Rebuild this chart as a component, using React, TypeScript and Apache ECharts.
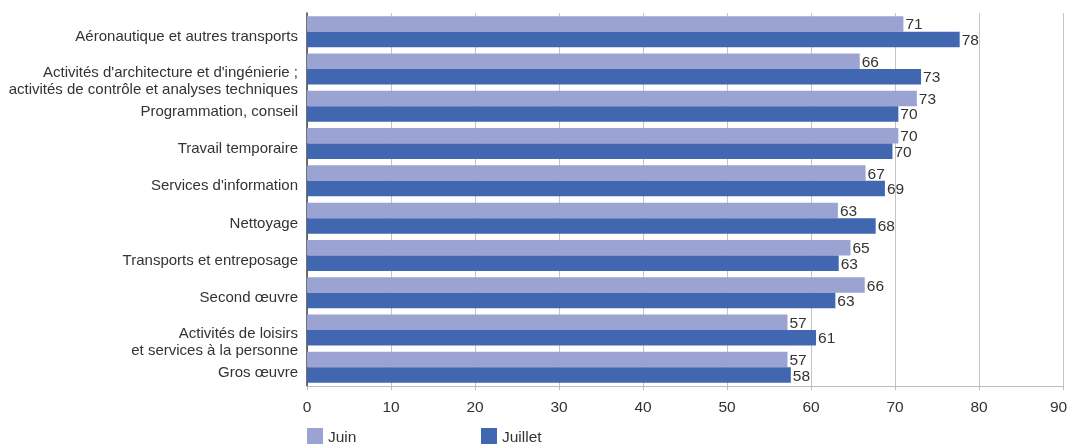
import React, { useEffect, useRef } from "react";
import * as echarts from "echarts";

const categories = [
  "Aéronautique et autres transports",
  "Activités d'architecture et d'ingénierie ;\nactivités de contrôle et analyses techniques",
  "Programmation, conseil",
  "Travail temporaire",
  "Services d'information",
  "Nettoyage",
  "Transports et entreposage",
  "Second œuvre",
  "Activités de loisirs\net services à la personne",
  "Gros œuvre",
];
const juin = [71.0, 65.8, 72.6, 70.4, 66.5, 63.2, 64.7, 66.4, 57.2, 57.2];
const juillet = [77.7, 73.1, 70.4, 69.7, 68.8, 67.7, 63.3, 62.9, 60.6, 57.6];
const xTicks = [0, 10, 20, 30, 40, 50, 60, 70, 80, 90];

const FONT = "'Liberation Sans', Arial, sans-serif";
const C_JUIN = "#9aa3d2";
const C_JUILLET = "#4267b1";

export default function App() {
  const ref = useRef<HTMLDivElement>(null);
  useEffect(() => {
    const chart = echarts.init(ref.current!, null, { renderer: "svg" });
    const label = {
      show: true,
      position: "right" as const,
      distance: 2,
      color: "#333",
      fontSize: 15.5,
      fontFamily: FONT,
      formatter: (p: any) => String(Math.round(p.value)),
    };
    const legendText = { fontSize: 15.5, color: "#333", fontFamily: FONT };
    const xMax = xTicks[xTicks.length - 1];
    chart.setOption({
      animation: false,
      textStyle: { fontFamily: FONT },
      grid: {
        left: 307,
        right: 7,
        top: 13,
        bottom: 59,
        containLabel: false,
        outerBoundsMode: "none",
      },
      legend: [
        {
          data: ["Juin"],
          left: 307,
          top: 428,
          padding: 0,
          itemWidth: 16,
          itemHeight: 16,
          icon: "rect",
          itemGap: 0,
          textStyle: legendText,
        },
        {
          data: ["Juillet"],
          left: 481,
          top: 428,
          padding: 0,
          itemWidth: 16,
          itemHeight: 16,
          icon: "rect",
          itemGap: 0,
          textStyle: legendText,
        },
      ],
      xAxis: {
        type: "value",
        min: xTicks[0],
        max: xMax,
        interval: 10,
        axisLine: { show: true, lineStyle: { color: "#bbb" } },
        axisTick: { show: true, length: 4, lineStyle: { color: "#bbb" } },
        axisLabel: {
          fontSize: 15.5,
          color: "#333",
          margin: 12,
          fontFamily: FONT,
          formatter: (v: number) => (v === xMax ? `{m|${v}}` : `{d|${v}}`),
          rich: { d: {}, m: { padding: [0, 9, 0, 0] } },
        },
        splitLine: { show: true, lineStyle: { color: "#c4c4c4", width: 1 } },
      },
      yAxis: {
        type: "category",
        inverse: true,
        data: categories,
        axisLine: { show: true, lineStyle: { color: "#444", width: 1.5 } },
        axisTick: { show: false },
        axisLabel: {
          interval: 0,
          fontSize: 15,
          color: "#333",
          margin: 9,
          fontFamily: FONT,
          formatter: (v: string) => {
            const lines = v.split("\n");
            if (lines.length === 1) return `{s|${v}}`;
            return `{f|${lines[0]}}\n{n|${lines[1]}}`;
          },
          rich: {
            s: { height: 17, padding: [8, 0, 0, 0] },
            f: { height: 17, padding: [22, 0, 0, 0] },
            n: { height: 17 },
          },
        },
      },
      series: [
        {
          name: "Juin",
          type: "bar",
          data: juin,
          barGap: "0%",
          barCategoryGap: "17%",
          itemStyle: { color: C_JUIN },
          label,
        },
        {
          name: "Juillet",
          type: "bar",
          data: juillet,
          barGap: "0%",
          barCategoryGap: "17%",
          itemStyle: { color: C_JUILLET },
          label,
        },
      ],
    });
    return () => chart.dispose();
  }, []);
  return (
    <div
      ref={ref}
      style={{ position: "fixed", left: 0, top: 0, width: 1070, height: 445 }}
    />
  );
}
